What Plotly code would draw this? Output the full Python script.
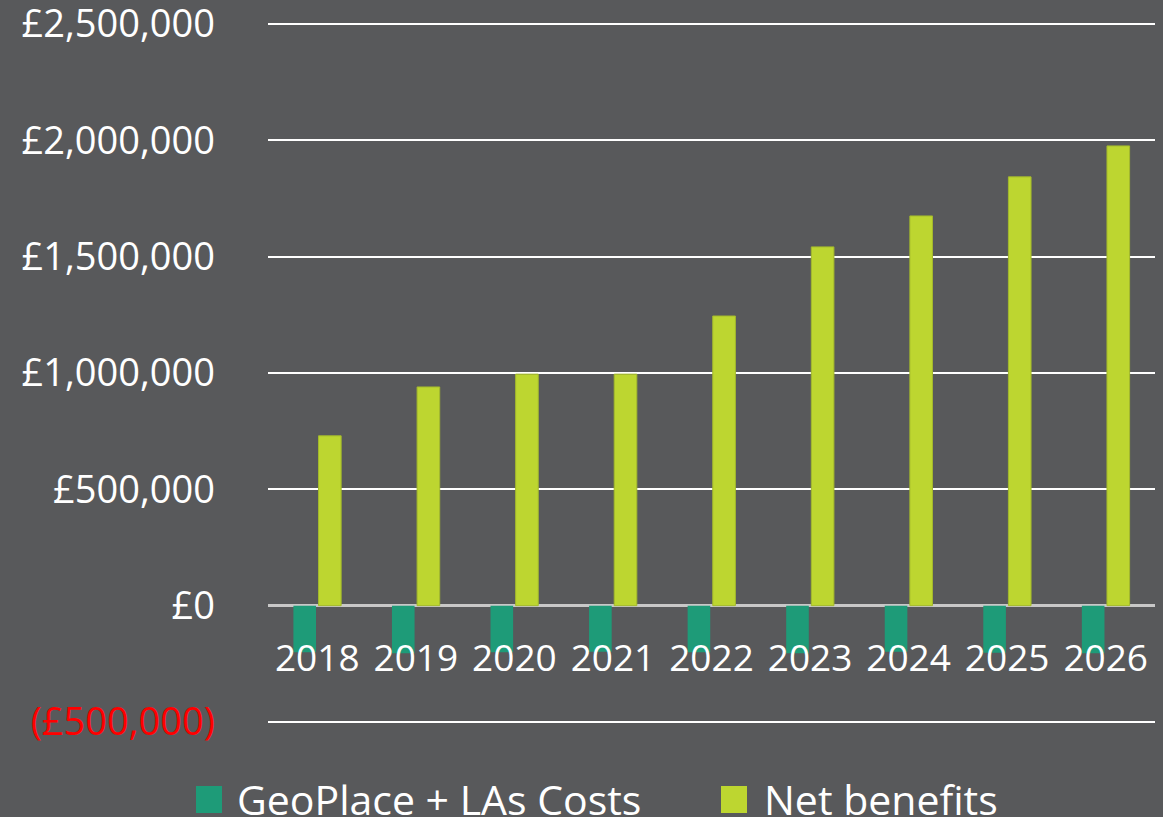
import plotly.graph_objects as go

years = ["2018", "2019", "2020", "2021", "2022", "2023", "2024", "2025", "2026"]
costs = [-200000, -205000, -200000, -198000, -200000, -205000, -198000, -202000, -205000]
net_benefits = [730000, 940000, 995000, 995000, 1245000, 1542000, 1675000, 1843000, 1976000]
series_names = ["GeoPlace + LAs Costs", "Net benefits"]
y_tickvals = [-500000, 0, 500000, 1000000, 1500000, 2000000, 2500000]
y_ticktext = ['<span style="color:#FF0000">(£500,000)</span>', "£0", "£500,000",
              "£1,000,000", "£1,500,000", "£2,000,000", "£2,500,000"]

BG = "#58595B"
TEAL = "#1E9B78"
LIME = "#BDD630"
FONT = "Open Sans"

W, H = 1163, 817
PAD = 3  # px of extra range at each end so edge gridlines are kept
ML, MR, MT, MB = 268, 8, 24 - PAD, 95 - PAD
plot_h = H - MT - MB
per_px = 3000000 / (plot_h - 2 * PAD)
ymin, ymax = -500000 - PAD * per_px, 2500000 + PAD * per_px
zero_pos = (0 - ymin) / (ymax - ymin)

fig = go.Figure()
fig.add_trace(go.Bar(x=years, y=costs, name=series_names[0], marker=dict(color=TEAL, line=dict(width=0))))
fig.add_trace(go.Bar(x=years, y=net_benefits, name=series_names[1],
                     marker=dict(color=LIME, line=dict(width=1, color="#A3B92C"))))

fig.update_layout(
    width=W, height=H,
    margin=dict(l=ML, r=MR, t=MT, b=MB, pad=0, autoexpand=False),
    paper_bgcolor=BG, plot_bgcolor=BG,
    barmode="group", bargap=0.49, bargroupgap=0.1,
    showlegend=False,
    font=dict(family=FONT, color="white", size=38),
)
fig.update_yaxes(
    range=[ymin, ymax], tickvals=y_tickvals, ticktext=y_ticktext,
    showgrid=True, gridcolor="white", gridwidth=2, automargin=False,
    zeroline=True, zerolinecolor="#C8C8C8", zerolinewidth=3,
    showline=False, ticks="", ticklabelstandoff=52, ticklabeloverflow="allow",
    tickfont=dict(family=FONT, size=38, color="white"),
)
fig.update_xaxes(
    anchor="free", position=zero_pos, automargin=False,
    showgrid=False, showline=False, ticks="", zeroline=False,
    tickfont=dict(family=FONT, size=37, color="white"),
    ticklabelstandoff=27, ticklabeloverflow="allow",
)

# custom legend
def px_x(px):
    return (px - ML) / (W - ML - MR)

def px_y(py):
    return (H - MB - py) / plot_h

legend_items = [(196, 222, 235, TEAL, series_names[0]), (721, 747, 762, LIME, series_names[1])]
for x0, x1, tx, col, name in legend_items:
    fig.add_shape(type="rect", xref="paper", yref="paper",
                  x0=px_x(x0), x1=px_x(x1), y0=px_y(786), y1=px_y(813),
                  fillcolor=col, line=dict(width=0))
    fig.add_annotation(xref="paper", yref="paper", x=px_x(tx), y=px_y(799),
                       text=name, showarrow=False, xanchor="left", yanchor="middle",
                       font=dict(family=FONT, size=41, color="white"))

fig.write_html("out.html", config={"displayModeBar": False}, post_script=(
    "document.body.style.margin='0';document.body.style.padding='0';"
    "document.body.style.background='#58595B';document.body.style.overflow='hidden';"))
